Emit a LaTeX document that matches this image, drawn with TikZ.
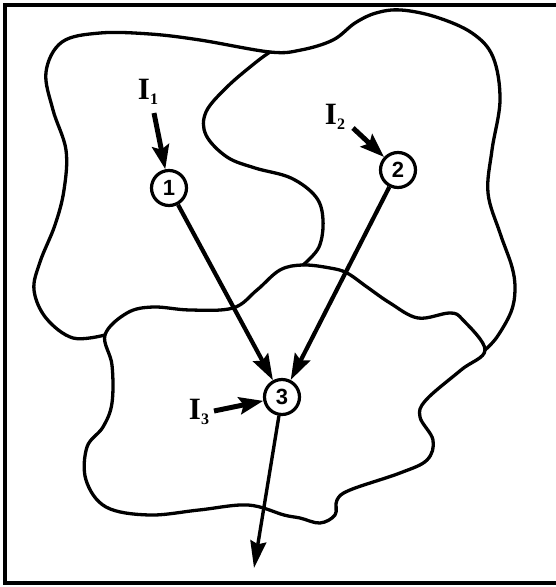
\documentclass[tikz,border=0pt]{standalone}
\usepackage{fontspec}
\setmainfont{Liberation Serif}
\newfontfamily\numfont{Liberation Sans}
\usetikzlibrary{arrows.meta}
\newcommand{\Ilab}[1]{\textbf{I}\raisebox{-0.4ex}{\fontsize{16}{16}\selectfont\bfseries #1}}
\tikzset{
  num/.style={circle, draw, line width=3.2pt, minimum size=35pt, inner sep=0pt, fill=white,
              font=\numfont\bfseries\fontsize{22}{22}\selectfont},
  lab/.style={inner sep=0pt, font=\fontsize{31}{31}\selectfont},
  blob/.style={line width=3.3pt, line join=round, line cap=round},
  conn/.style={line width=4.2pt, -{Stealth[length=26pt,width=17pt,inset=4pt]}},
  inarr/.style={line width=5pt, -{Stealth[length=24pt,width=17pt,inset=4pt]}},
  outarr/.style={line width=3.4pt, -{Stealth[length=27pt,width=16pt,inset=3pt]}},
  frame/.style={line width=3.4pt}
}
\begin{document}
\begin{tikzpicture}[x=1pt,y=-1pt]
\useasboundingbox (0,0) rectangle (556,587);
\draw[frame] (570,5) -- (5,5) -- (5,583) -- (570,583);

% outer boundary of regions A and B: from J2 via J1 to J3
\draw[blob] plot[smooth, tension=0.6] coordinates {
 (105,335) (73,338) (46,318) (34,290) (40,262) (55,225) (64,190) (66,150) (53,110) (46,72)
 (62,42) (100,33) (150,34) (200,40) (270,52) (301,50) (333,40) (355,23) (376,13) (401,10)
 (436,17) (472,33) (493,57) (500,100) (492,150) (488,193) (500,233) (512,267) (515,290)
 (511,312) (497,337) (485,350)};

% S-curve between A and B: J1 to J4
\draw[blob] plot[smooth, tension=0.6] coordinates {
 (270,52) (255,63) (227,87) (206,112) (206,135) (227,157) (255,168) (291,178) (316,197)
 (323,220) (319,247) (303,265)};

% region C (closed)
\draw[blob] plot[smooth cycle, tension=0.6] coordinates {
 (105,335) (127,313) (153,307) (190,310) (233,308) (257,290) (280,270) (303,265) (330,268)
 (347,273) (367,287) (390,303) (418,318) (450,313) (463,320) (485,350) (461,370) (426,400)
 (420,417) (433,440) (427,460) (400,473) (350,490) (337,500) (335,515) (320,523) (300,518)
 (284,515) (248,505) (199,510) (149,515) (106,507) (86,480) (87,447) (103,427) (112,403)
 (112,365)};

\node[num] (n1) at (169,188) {1};
\node[num] (n2) at (398,170) {2};
\node[num] (n3) at (282,397) {3};

\node[lab] (i1) at (148,92) {\Ilab{1}};
\node[lab] (i2) at (335,117) {\Ilab{2}};
\node[lab] (i3) at (199,412) {\Ilab{3}};

\coordinate (a1) at (154,113);
\coordinate (a2) at (353,128);
\coordinate (a3) at (214,411);
\coordinate (out) at (254,568);

\draw[inarr] (a1) -- (n1);
\draw[inarr] (a2) -- (n2);
\draw[inarr] (a3) -- (n3);
\draw[conn] (n1) -- (n3);
\draw[conn] (n2) -- (n3);
\draw[outarr] (n3) -- (out);
\end{tikzpicture}
\end{document}
